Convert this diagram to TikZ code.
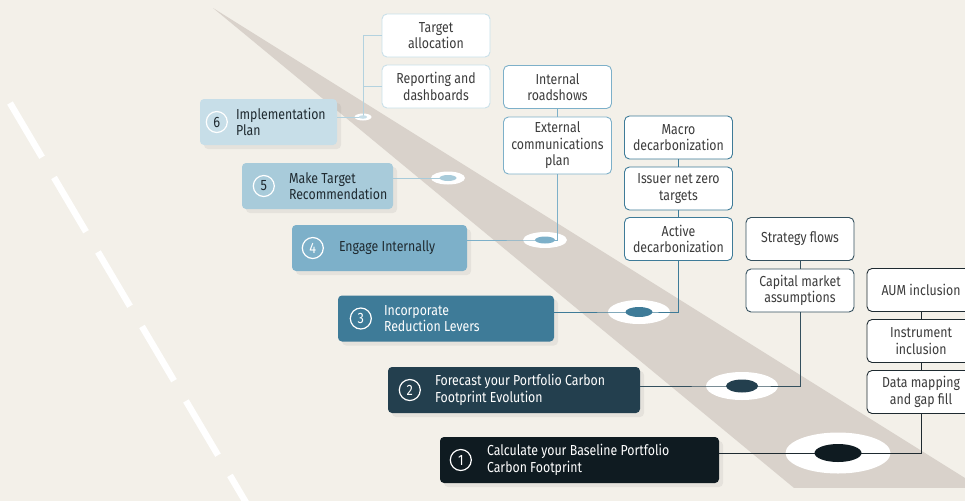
\documentclass[tikz,border=0pt]{standalone}
\usepackage{fontspec}
\setmainfont[FakeStretch=0.85]{Fira Sans}
\usetikzlibrary{shapes.geometric,shadows}
\definecolor{bg}{HTML}{F3F0E9}
\definecolor{road}{HTML}{D9D2CB}
\definecolor{cA}{HTML}{C7DEE8}
\definecolor{cB}{HTML}{A8CBDA}
\definecolor{cC}{HTML}{7DB0C9}
\definecolor{cD}{HTML}{3E7B98}
\definecolor{cE}{HTML}{233F4E}
\definecolor{cF}{HTML}{0F1B21}
\definecolor{lA}{HTML}{B3D2DF}
\definecolor{bA}{HTML}{C9E0E9}
\definecolor{lE}{HTML}{34505E}
\definecolor{lF}{HTML}{1E2A30}
\definecolor{txtdark}{HTML}{1F2A30}
\definecolor{txtgray}{HTML}{3C3C3C}
\tikzset{
  txt/.style={font=\fontsize{14.5}{16.5}\selectfont},
  mainbox/.style={rounded corners=4pt, minimum height=46pt, inner sep=0pt,
    drop shadow={shadow xshift=4pt, shadow yshift=-4pt, opacity=0.12}},
  subbox/.style={draw, fill=white, rounded corners=5pt, line width=0.9pt,
    minimum width=108pt, minimum height=43pt, inner sep=1pt, align=center,
    text=txtgray, txt},
  numc/.style={circle, draw=white, line width=1.2pt, minimum size=21pt,
    inner sep=0pt, font=\fontsize{15}{16}\selectfont},
  btext/.style={anchor=west, align=left, inner sep=0pt, txt},
  outer/.style={ellipse, fill=white, inner sep=0pt},
  dot/.style={ellipse, inner sep=0pt},
  conn/.style={line width=0.9pt}
}
\begin{document}
\begin{tikzpicture}[x=1pt,y=-1pt]
\useasboundingbox (0,0) rectangle (965,501);
\fill[bg] (0,0) rectangle (965,501);
% road
\begin{scope}
\clip (0,0) rectangle (965,487);
\fill[road] (213,8) -- (1100,562.4) -- (800,492.9) -- cycle;
\end{scope}
% dashed white line
\draw[white, line width=6.5pt, dash pattern=on 63pt off 23.5pt] (10,103) -- (274,550);

% main boxes
\node[mainbox, fill=cA, minimum width=137pt] (b6) at (268.5,122) {};
\node[mainbox, fill=cB, minimum width=151pt] (b5) at (317.5,186) {};
\node[mainbox, fill=cC, minimum width=175pt] (b4) at (379.5,248) {};
\node[mainbox, fill=cD, minimum width=216pt] (b3) at (446,318.5) {};
\node[mainbox, fill=cE, minimum width=252pt] (b2) at (514,390) {};
\node[mainbox, fill=cF, minimum width=279pt] (b1) at (579.5,460) {};

% numbers
\node[numc, text=txtdark] (n6) at ([xshift=17pt]b6.west) {6};
\node[numc, text=txtdark] (n5) at ([xshift=22pt]b5.west) {5};
\node[numc, text=white] (n4) at ([xshift=21pt]b4.west) {4};
\node[numc, text=white] (n3) at ([xshift=23pt]b3.west) {3};
\node[numc, text=white] (n2) at ([xshift=22pt]b2.west) {2};
\node[numc, text=white] (n1) at ([xshift=21pt]b1.west) {1};

% texts
\node[btext, text=txtdark] (t6) at ([xshift=36pt]b6.west) {Implementation\\Plan};
\node[btext, text=txtdark] (t5) at ([xshift=47pt]b5.west) {Make Target\\Recommendation};
\node[btext, text=txtdark] (t4) at ([xshift=47pt]b4.west) {Engage Internally};
\node[btext, text=white] (t3) at ([xshift=46pt]b3.west) {Incorporate\\Reduction Levers};
\node[btext, text=white] (t2) at ([xshift=47pt]b2.west) {Forecast your Portfolio Carbon\\Footprint Evolution};
\node[btext, text=white] (t1) at ([xshift=47pt]b1.west) {Calculate your Baseline Portfolio\\Carbon Footprint};

% sub boxes
\node[subbox, draw=bA] (ta) at (436,35.5) {Target\\allocation};
\node[subbox, draw=bA] (rd) at (436,86.5) {Reporting and\\dashboards};
\node[subbox, draw=cC] (int) at (557.5,87) {Internal\\roadshows};
\node[subbox, draw=cC, minimum height=57pt] (ext) at (557.5,145.5) {External\\communications\\plan};
\node[subbox, draw=cD] (mac) at (678.5,137.5) {Macro\\decarbonization};
\node[subbox, draw=cD] (iss) at (678.5,188.5) {Issuer net zero\\targets};
\node[subbox, draw=cD] (act) at (678.5,239) {Active\\decarbonization};
\node[subbox, draw=lE] (str) at (800,239) {Strategy flows};
\node[subbox, draw=lE] (cap) at (800,290.5) {Capital market\\assumptions};
\node[subbox, draw=lF] (aum) at (921,290) {AUM inclusion};
\node[subbox, draw=lF] (ins) at (921,341) {Instrument\\inclusion};
\node[subbox, draw=lF] (dat) at (921,392) {Data mapping\\and gap fill};

% outer white markers
\node[outer, minimum width=17pt, minimum height=7pt] (m6) at (363,117) {};
\node[outer, minimum width=34pt, minimum height=13pt] (m5) at (448,178) {};
\node[outer, minimum width=44pt, minimum height=16pt] (m4) at (545,240) {};
\node[outer, minimum width=62pt, minimum height=24pt] (m3) at (639,312) {};
\node[outer, minimum width=72pt, minimum height=28pt] (m2) at (742,386) {};
\node[outer, minimum width=105pt, minimum height=41pt] (m1) at (838,453) {};

% connectors
\draw[conn, draw=lA] (b6.east |- m6.center) -- (m6.center) -- (m6.center |- ta.west) -- (ta.west);
\draw[conn, draw=lA] (m6.center |- rd.west) -- (rd.west);
\draw[conn, draw=cB] (b5.east |- m5.center) -- (m5.center);
\draw[conn, draw=cC] (b4.east |- m4.center) -- (m4.center) -| (ext.south);
\draw[conn, draw=cC] (int.south) -- (ext.north);
\draw[conn, draw=cD] (b3.east |- m3.center) -- (m3.center) -| (act.south);
\draw[conn, draw=cD] (mac.south) -- (iss.north);
\draw[conn, draw=cD] (iss.south) -- (act.north);
\draw[conn, draw=lE] (b2.east |- m2.center) -- (m2.center) -| (cap.south);
\draw[conn, draw=lE] (str.south) -- (cap.north);
\draw[conn, draw=lF] (b1.east |- m1.center) -- (m1.center) -| (dat.south);
\draw[conn, draw=lF] (aum.south) -- (ins.north);
\draw[conn, draw=lF] (ins.south) -- (dat.north);

% inner dots
\node[dot, fill=cA, minimum width=8pt, minimum height=3.5pt] (d6) at (m6) {};
\node[dot, fill=cB, minimum width=17pt, minimum height=6pt] (d5) at (m5) {};
\node[dot, fill=cC, minimum width=20pt, minimum height=7pt] (d4) at (m4) {};
\node[dot, fill=cD, minimum width=27pt, minimum height=10pt] (d3) at (m3) {};
\node[dot, fill=cE, minimum width=32pt, minimum height=13pt] (d2) at (m2) {};
\node[dot, fill=cF, minimum width=47pt, minimum height=18pt] (d1) at (m1) {};
\end{tikzpicture}
\end{document}
